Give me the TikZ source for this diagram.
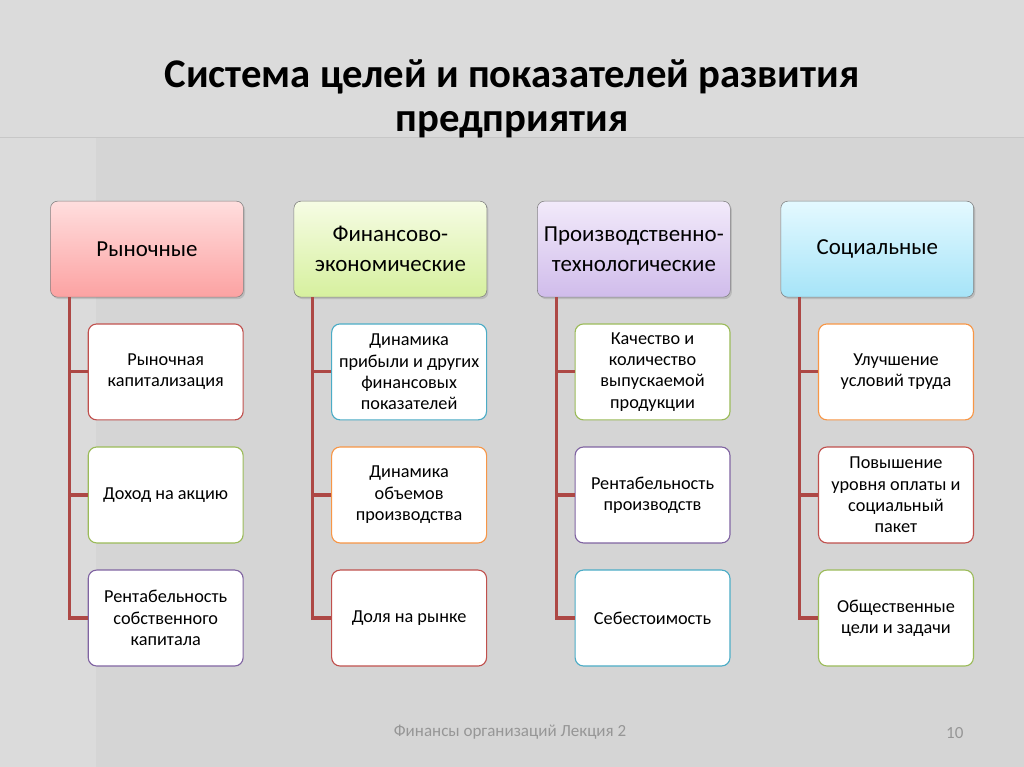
\documentclass[tikz,border=0pt]{standalone}
\usepackage{fontspec}
\setmainfont{Carlito}
\usetikzlibrary{positioning, calc, shadows}
\definecolor{accent1}{RGB}{192,80,77}
\definecolor{accent2}{RGB}{155,187,89}
\definecolor{accent3}{RGB}{128,100,162}
\definecolor{accent4}{RGB}{75,172,198}
\definecolor{accent5}{RGB}{247,150,70}
\definecolor{pinktop}{RGB}{255,222,222}
\definecolor{pinkbot}{RGB}{252,162,162}
\definecolor{greentop}{RGB}{246,252,228}
\definecolor{greenbot}{RGB}{214,240,158}
\definecolor{violettop}{RGB}{242,234,250}
\definecolor{violetbot}{RGB}{208,188,235}
\definecolor{bluetop}{RGB}{228,249,255}
\definecolor{bluebot}{RGB}{166,228,248}
\definecolor{slidebg}{RGB}{213,213,213}
\definecolor{titlebg}{RGB}{219,219,219}
\definecolor{footgray}{RGB}{150,150,150}

\begin{document}
\begin{tikzpicture}[
    head/.style={rectangle, rounded corners=5pt, draw=black!50, minimum width=4.825cm, minimum height=2.4cm, inner xsep=2pt, align=center, font=\fontsize{16.3}{21}\selectfont, drop shadow={opacity=0.3, shadow xshift=0.04cm, shadow yshift=-0.05cm}},
    item/.style={rectangle, rounded corners=6pt, fill=white, line width=0.8pt, minimum width=3.875cm, minimum height=2.4cm, align=center, font=\fontsize{13}{15.2}\selectfont},
    link/.style={line width=2.2pt, accent1!90!black}
]

% фон слайда
\fill[slidebg] (0,0) rectangle (25.6,-19.175);
\fill[titlebg] (0,0) rectangle (25.6,-3.425);
\fill[white, opacity=0.15] (0,-3.425) rectangle (2.4,-19.175);
\draw[black!22] (0,-3.425) -- (25.6,-3.425);
\useasboundingbox (0,0) rectangle (25.6,-19.175);

% заголовок
\node[align=center, font=\fontsize{29}{31}\selectfont\bfseries] (title) at (12.8,-2.47) {Система целей и показателей развития\\предприятия};

% группы целей
\node[head, anchor=north west, top color=pinktop, bottom color=pinkbot] (h1) at (1.25,-5.025) {Рыночные};
\node[head, right=1.25cm of h1, top color=greentop, bottom color=greenbot] (h2) {Финансово-\\экономические};
\node[head, right=1.25cm of h2, top color=violettop, bottom color=violetbot] (h3) {Производственно-\\технологические};
\node[head, right=1.25cm of h3, top color=bluetop, bottom color=bluebot] (h4) {Социальные};

% показатели: рыночные
\node[item, draw=accent1, anchor=north east] (c11) at ([yshift=-0.65cm]h1.south east) {Рыночная\\капитализация};
\node[item, draw=accent2, below=0.65cm of c11] (c12) {Доход на акцию};
\node[item, draw=accent3, below=0.65cm of c12] (c13) {Рентабельность\\собственного\\капитала};

% показатели: финансово-экономические
\node[item, draw=accent4, anchor=north east] (c21) at ([yshift=-0.65cm]h2.south east) {Динамика\\прибыли и других\\финансовых\\показателей};
\node[item, draw=accent5, below=0.65cm of c21] (c22) {Динамика\\объемов\\производства};
\node[item, draw=accent1, below=0.65cm of c22] (c23) {Доля на рынке};

% показатели: производственно-технологические
\node[item, draw=accent2, anchor=north east] (c31) at ([yshift=-0.65cm]h3.south east) {Качество и\\количество\\выпускаемой\\продукции};
\node[item, draw=accent3, below=0.65cm of c31] (c32) {Рентабельность\\производств};
\node[item, draw=accent4, below=0.65cm of c32] (c33) {Себестоимость};

% показатели: социальные
\node[item, draw=accent5, anchor=north east] (c41) at ([yshift=-0.65cm]h4.south east) {Улучшение\\условий труда};
\node[item, draw=accent1, below=0.65cm of c41] (c42) {Повышение\\уровня оплаты и\\социальный\\пакет};
\node[item, draw=accent2, below=0.65cm of c42] (c43) {Общественные\\цели и задачи};

% соединительные линии
\draw[link] ([xshift=0.475cm]h1.south west) |- (c13.west);
\draw[link] ([xshift=0.475cm]h1.south west) |- (c11.west);
\draw[link] ([xshift=0.475cm]h1.south west) |- (c12.west);
\draw[link] ([xshift=0.475cm]h2.south west) |- (c23.west);
\draw[link] ([xshift=0.475cm]h2.south west) |- (c21.west);
\draw[link] ([xshift=0.475cm]h2.south west) |- (c22.west);
\draw[link] ([xshift=0.475cm]h3.south west) |- (c33.west);
\draw[link] ([xshift=0.475cm]h3.south west) |- (c31.west);
\draw[link] ([xshift=0.475cm]h3.south west) |- (c32.west);
\draw[link] ([xshift=0.475cm]h4.south west) |- (c43.west);
\draw[link] ([xshift=0.475cm]h4.south west) |- (c41.west);
\draw[link] ([xshift=0.475cm]h4.south west) |- (c42.west);

% нижний колонтитул
\node[footgray, font=\fontsize{12.1}{14}\selectfont] (footer) at (12.75,-18.325) {Финансы организаций Лекция 2};
\node[footgray, font=\fontsize{12.1}{14}\selectfont] (pagenum) at (23.875,-18.325) {10};

\end{tikzpicture}
\end{document}
